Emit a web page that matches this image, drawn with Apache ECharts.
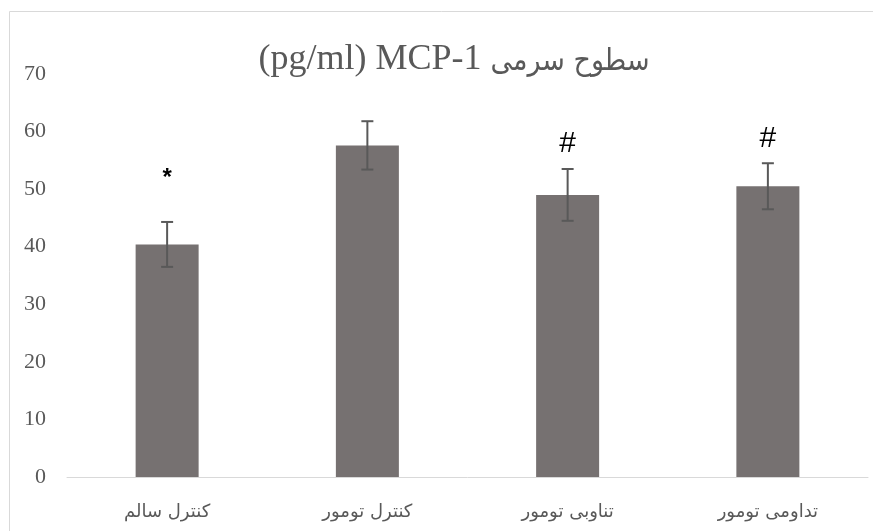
<!DOCTYPE html>
<html>
<head>
<meta charset="utf-8">
<script src="https://cdn.jsdelivr.net/npm/echarts@6/dist/echarts.min.js"></script>
<style>
  html, body { margin: 0; padding: 0; background: #fff; }
  #chart { width: 873px; height: 531px; }
</style>
</head>
<body>
<div id="chart"></div>
<script>
const categories = ['کنترل سالم', 'کنترل تومور', 'تناوبی تومور', 'تداومی تومور'];
const means = [40.4, 57.6, 49.0, 50.5];
const errors = [3.9, 4.2, 4.5, 4.0];
const marks = ['*', '', '#', '#'];
const titleFa = 'سطوح سرمی';
const titleLatin = '(pg/ml) MCP-1';

const chart = echarts.init(document.getElementById('chart'));

// pixel gap between error bar top and the significance mark
const markStyle = {
  '*': { gap: 44, font: 'bold 24px "Liberation Sans", sans-serif' },
  '#': { gap: 25, font: '30px "Liberation Sans", sans-serif' },
};

chart.setOption({
  animation: false,
  title: {
    // right-to-left title laid out visually: latin part left, persian part right
    text: '{la|' + titleLatin + '} {fa|' + titleFa + '}',
    left: 449,
    top: 37,
    textAlign: 'center',
    textStyle: {
      fontFamily: '"Liberation Serif", serif',
      fontSize: 36,
      fontWeight: 'normal',
      color: '#595959',
      rich: {
        la: {
          fontFamily: '"Liberation Serif", serif',
          fontSize: 36,
          color: '#595959',
        },
        fa: {
          fontFamily: '"DejaVu Sans Condensed", "DejaVu Sans", sans-serif',
          fontSize: 30,
          color: '#595959',
          padding: [4, 0, 0, 0],
        },
      },
    },
  },
  graphic: [{
    type: 'rect',
    shape: { x: 9.5, y: 11.5, width: 900, height: 600 },
    style: { fill: 'none', stroke: '#d9d9d9', lineWidth: 1 },
    silent: true,
  }],
  grid: { left: 67, right: 5, top: 74, bottom: 54 },
  xAxis: {
    type: 'category',
    data: categories,
    axisTick: { show: false },
    axisLine: { lineStyle: { color: '#d9d9d9', width: 1 } },
    axisLabel: {
      margin: 26,
      fontSize: 18,
      color: '#595959',
      fontFamily: '"DejaVu Sans", sans-serif',
    },
  },
  yAxis: {
    type: 'value',
    min: 0,
    max: 70,
    interval: 10,
    splitLine: { show: false },
    axisLine: { show: false },
    axisTick: { show: false },
    axisLabel: {
      margin: 21,
      fontSize: 22,
      color: '#595959',
      fontFamily: '"Liberation Serif", serif',
    },
  },
  series: [
    {
      type: 'bar',
      data: means,
      barWidth: 63,
      itemStyle: { color: '#767171' },
    },
    {
      type: 'custom',
      data: means.map((m, i) => [i, m, errors[i]]),
      renderItem: (params, api) => {
        const i = api.value(0);
        const m = api.value(1);
        const e = api.value(2);
        const top = api.coord([i, m + e]);
        const bot = api.coord([i, m - e]);
        const half = 6;
        const lineStyle = { stroke: '#595959', lineWidth: 2 };
        const children = [
          { type: 'line', shape: { x1: top[0], y1: top[1], x2: bot[0], y2: bot[1] }, style: lineStyle },
          { type: 'line', shape: { x1: top[0] - half, y1: top[1], x2: top[0] + half, y2: top[1] }, style: lineStyle },
          { type: 'line', shape: { x1: bot[0] - half, y1: bot[1], x2: bot[0] + half, y2: bot[1] }, style: lineStyle },
        ];
        const mk = marks[params.dataIndex];
        if (mk) {
          const st = markStyle[mk];
          children.push({
            type: 'text',
            style: {
              text: mk,
              x: top[0],
              y: top[1] - st.gap,
              align: 'center',
              verticalAlign: 'middle',
              font: st.font,
              fill: '#000',
            },
          });
        }
        return { type: 'group', children };
      },
      z: 5,
    },
  ],
});
</script>
</body>
</html>
